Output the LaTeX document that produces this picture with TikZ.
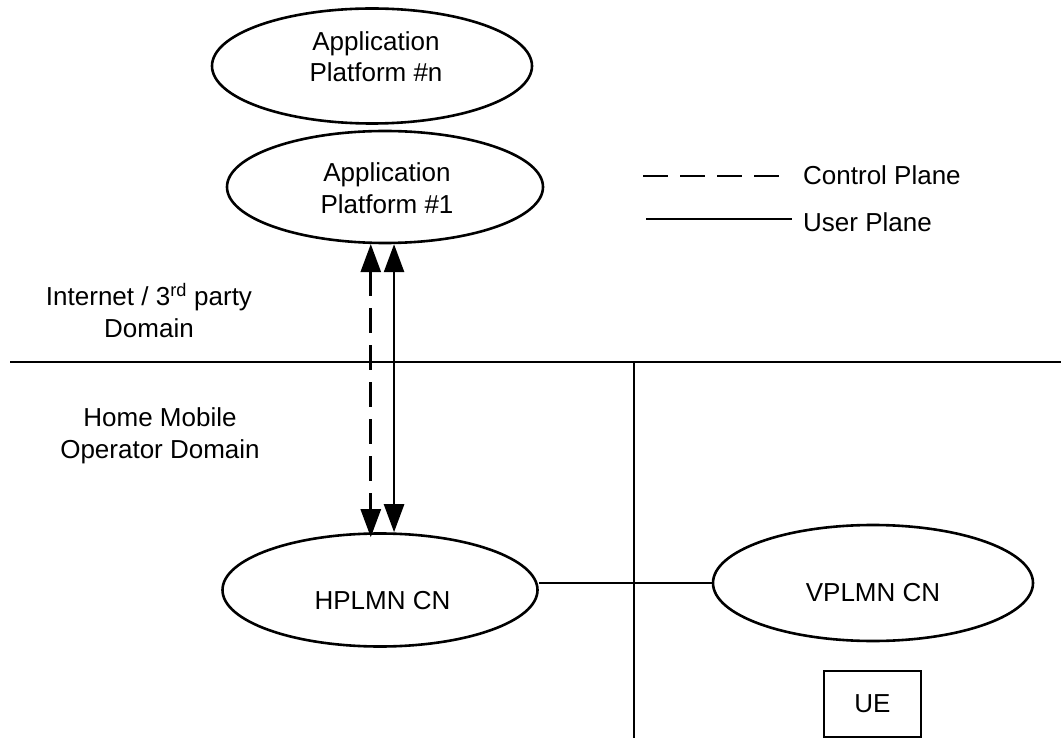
\documentclass[tikz,border=0pt]{standalone}
\usepackage{fontspec}
\setmainfont{Liberation Sans}
\usetikzlibrary{arrows.meta,shapes.geometric}
\begin{document}
\begin{tikzpicture}[x=1pt,y=-1pt,
  every node/.style={font=\fontsize{26}{31.5}\selectfont},
  line/.style={line width=2.6pt},
  oval/.style={draw, ellipse, line width=2.6pt, inner sep=0pt},
  cp/.style={line width=2.6pt, dash pattern=on 25pt off 12pt},
  up/.style={line width=2.6pt},
  bi/.style={{Triangle[length=28pt,width=20pt]}-{Triangle[length=28pt,width=20pt]}},
  txt/.style={align=center, inner sep=0pt}]
\useasboundingbox (0,0) rectangle (1061,751);
% ellipses
\node[oval, minimum width=320pt, minimum height=115pt] (appn) at (372,66) {};
\node[txt] (appnt) at (376,56.5) {Application\\Platform \#n};
\node[oval, minimum width=316pt, minimum height=112pt] (app1) at (385,187) {};
\node[txt] (app1t) at (387,188) {Application\\Platform \#1};
\node[oval, minimum width=315pt, minimum height=113pt] (hp) at (380,590) {};
\node[txt, anchor=base] (hpt) at (382.5,609) {HPLMN CN};
\node[oval, minimum width=320pt, minimum height=116pt] (vp) at (873,583) {};
\node[txt, anchor=base] (vpt) at (873,601) {VPLMN CN};
\node[draw, line width=2.6pt, minimum width=97pt, minimum height=66pt, inner sep=0pt] (ue) at (872.5,704) {UE};
% domain borders
\coordinate (hl) at (10,362);
\coordinate (hr) at (1061,362);
\draw[line] (hl) -- (hr);
\coordinate (vt) at (634,362);
\coordinate (vb) at (634,738);
\draw[line] (vt) -- (vb);
% domain labels
\node[txt] (inet) at (149,310.5) {Internet / 3\textsuperscript{rd} party\\Domain};
\node[txt] (home) at (160,436) {Home Mobile\\Operator Domain};
% connectors
\draw[line] (vp.west) -- (vp.west -| hp.east);
\draw[cp, bi] (app1.-104) -- ([yshift=-5pt]app1.-104 |- hp.north);
\draw[up, bi] (app1.-81) -- (app1.-81 |- hp.north);
% legend
\coordinate (c1) at (643,176);
\coordinate (c2) at (783,176);
\draw[cp] (c1) -- (c2);
\node[anchor=base west, inner sep=0pt] (cpt) at (803,185) {Control Plane};
\coordinate (u1) at (646,219);
\coordinate (u2) at (792,219);
\draw[up] (u1) -- (u2);
\node[anchor=base west, inner sep=0pt] (upt) at (803,232) {User Plane};
\end{tikzpicture}
\end{document}
